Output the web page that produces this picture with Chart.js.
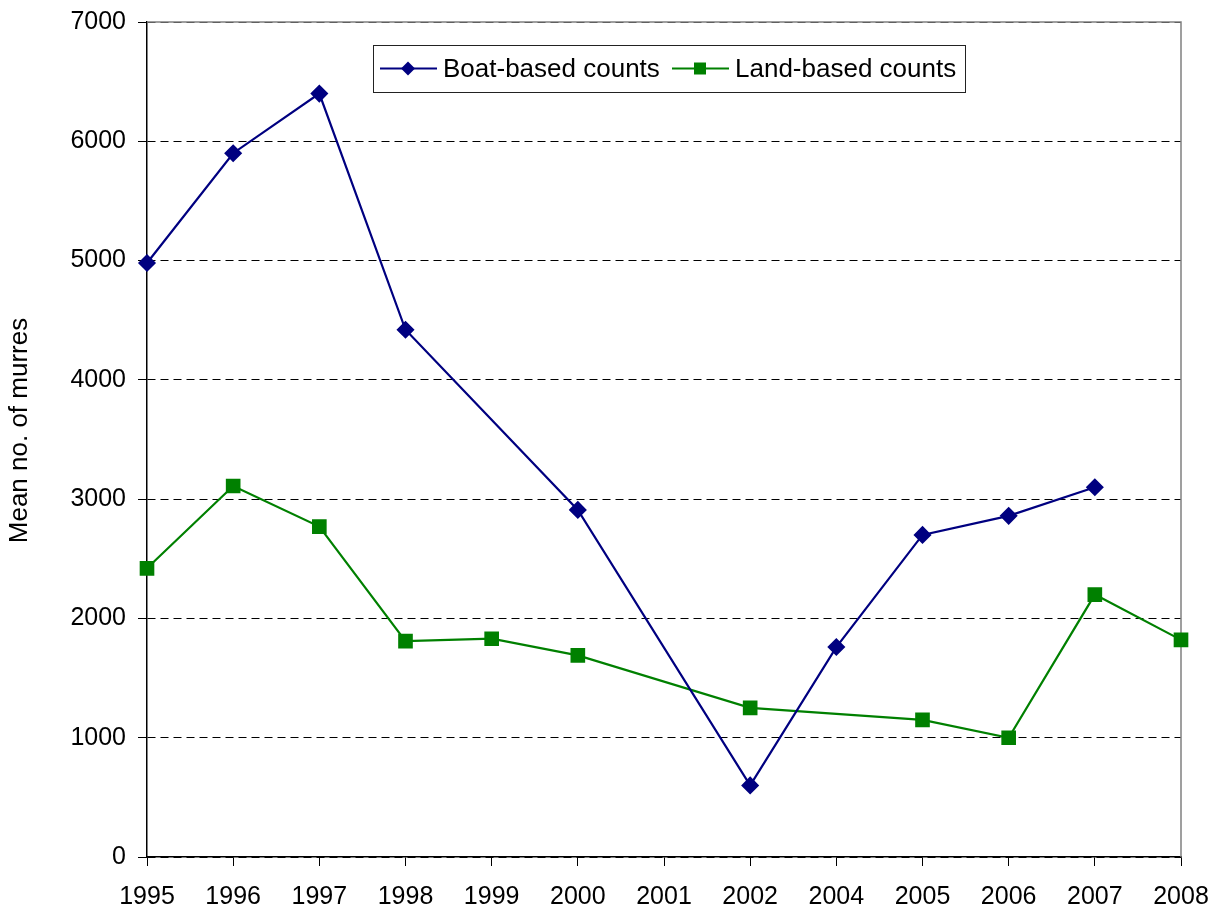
<!DOCTYPE html>
<html>
<head>
<meta charset="utf-8">
<script src="https://cdn.jsdelivr.net/npm/chart.js@4"></script>
<style>
  body { margin: 0; background: #fff; }
  canvas { display: block; }
</style>
</head>
<body>
<canvas id="myChart" width="1219" height="911"></canvas>
<script>
const years = ["1995", "1996", "1997", "1998", "1999", "2000", "2001", "2002", "2004", "2005", "2006", "2007", "2008"];
const boatCounts = [4980, 5900, 6400, 4420, null, 2910, null, 600, 1760, 2700, 2860, 3100, null];
const landCounts = [2420, 3110, 2770, 1810, 1830, 1690, null, 1250, null, 1150, 1000, 2200, 1820];
const yTicks = [0, 1000, 2000, 3000, 4000, 5000, 6000, 7000];
const yTitle = "Mean no. of murres";

const fontFamily = "'Liberation Sans', Arial, sans-serif";

// plot area border (gray top + right), y title and the boxed legend inside the plot
const frameAndLegend = {
  id: "frameAndLegend",
  beforeDatasetsDraw(chart) {
    const { ctx, chartArea } = chart;
    ctx.save();
    ctx.strokeStyle = "#808080";
    ctx.lineWidth = 1.5;
    ctx.beginPath();
    ctx.moveTo(chartArea.left, chartArea.top);
    ctx.lineTo(chartArea.right, chartArea.top);
    ctx.lineTo(chartArea.right, chartArea.bottom);
    ctx.stroke();
    ctx.restore();
  },
  afterDraw(chart) {
    const { ctx, chartArea } = chart;

    // y axis title
    ctx.save();
    ctx.translate(20, (chartArea.top + chartArea.bottom) / 2 - 9);
    ctx.rotate(-Math.PI / 2);
    ctx.font = "26px " + fontFamily;
    ctx.fillStyle = "#000";
    ctx.textAlign = "center";
    ctx.textBaseline = "middle";
    ctx.fillText(yTitle, 0, 0);
    ctx.restore();

    const x0 = chartArea.left + 226;
    const y0 = chartArea.top + 23;
    const w = 592;
    const h = 47;
    ctx.save();
    ctx.fillStyle = "#fff";
    ctx.fillRect(x0, y0, w, h);
    ctx.strokeStyle = "#222";
    ctx.lineWidth = 1;
    ctx.strokeRect(x0 + 0.5, y0 + 0.5, w, h);

    const cy = y0 + h / 2;
    const items = chart.data.datasets.map((ds, i) => ({
      text: ds.label,
      color: ds.borderColor,
      shape: i === 0 ? "diamond" : "square",
      lx: x0 + (i === 0 ? 7 : 299),
    }));
    ctx.font = "26px " + fontFamily;
    ctx.textBaseline = "middle";
    items.forEach((it) => {
      ctx.strokeStyle = it.color;
      ctx.fillStyle = it.color;
      ctx.lineWidth = 2;
      ctx.beginPath();
      ctx.moveTo(it.lx, cy);
      ctx.lineTo(it.lx + 57, cy);
      ctx.stroke();
      const mx = it.lx + 28;
      ctx.beginPath();
      if (it.shape === "diamond") {
        ctx.moveTo(mx, cy - 7);
        ctx.lineTo(mx + 7, cy);
        ctx.lineTo(mx, cy + 7);
        ctx.lineTo(mx - 7, cy);
        ctx.closePath();
      } else {
        ctx.rect(mx - 6, cy - 6, 12, 12);
      }
      ctx.fill();
      ctx.fillStyle = "#000";
      ctx.fillText(it.text, it.lx + 63, cy + 1);
    });
    ctx.restore();
  },
};

const config = {
  type: "line",
  data: {
    labels: years,
    datasets: [
      {
        label: "Boat-based counts",
        data: boatCounts,
        borderColor: "#000080",
        backgroundColor: "#000080",
        borderWidth: 2.2,
        pointStyle: "rectRot",
        pointRadius: 7.5,
        pointHoverRadius: 7.5,
        spanGaps: true,
        tension: 0,
      },
      {
        label: "Land-based counts",
        data: landCounts,
        borderColor: "#008000",
        backgroundColor: "#008000",
        borderWidth: 2.2,
        pointStyle: "rect",
        pointRadius: 8.8,
        pointHoverRadius: 8.8,
        spanGaps: true,
        tension: 0,
      },
    ],
  },
  options: {
    responsive: false,
    animation: false,
    layout: {
      padding: { left: 0, right: 38, top: 22, bottom: 0 },
    },
    plugins: {
      legend: { display: false },
      tooltip: { enabled: false },
    },
    scales: {
      x: {
        offset: false,
        grid: {
          drawOnChartArea: false,
          drawTicks: true,
          tickLength: 9,
          tickColor: "#000",
          tickWidth: 1,
        },
        border: { color: "#000", width: 1.5 },
        ticks: {
          color: "#000",
          font: { family: fontFamily, size: 25 },
          padding: 16,
          maxRotation: 0,
          autoSkip: false,
        },
        afterFit: (s) => {
          s.height = 54;
          s.paddingLeft = 0;
          s.paddingRight = 0;
        },
      },
      y: {
        min: 0,
        max: 7000,
        afterBuildTicks: (s) => {
          s.ticks = yTicks.map((v) => ({ value: v }));
        },
        grid: {
          color: "#000",
          lineWidth: 1,
          tickBorderDash: [],
          tickLength: 9,
          tickColor: "#000",
        },
        border: { color: "#000", width: 1.5, dash: [8, 5] },
        ticks: {
          color: "#000",
          font: { family: fontFamily, size: 25 },
          padding: 12,
          callback: (v) => String(v),
        },
        afterFit: (s) => {
          s.width = 147;
          s.paddingTop = 0;
          s.paddingBottom = 0;
        },
      },
    },
  },
  plugins: [frameAndLegend],
};

const myChart = new Chart(document.getElementById("myChart"), config);
</script>
</body>
</html>
